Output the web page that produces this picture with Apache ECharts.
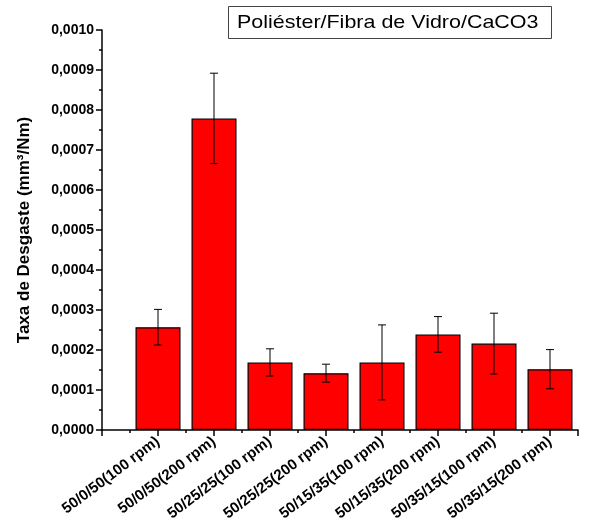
<!DOCTYPE html>
<html>
<head>
<meta charset="utf-8">
<script src="https://cdn.jsdelivr.net/npm/echarts@6/dist/echarts.min.js"></script>
<style>
  html, body { margin: 0; padding: 0; background: #fff; }
  #container { width: 597px; height: 526px; }
</style>
</head>
<body>
<div id="container"></div>
<script>
var categories = ['50/0/50(100 rpm)', '50/0/50(200 rpm)', '50/25/25(100 rpm)', '50/25/25(200 rpm)',
  '50/15/35(100 rpm)', '50/15/35(200 rpm)', '50/35/15(100 rpm)', '50/35/15(200 rpm)'];
var rates = [0.000257, 0.000779, 0.000169, 0.000142, 0.000169, 0.000239, 0.000216, 0.000152];
var errors = [0.0000445, 0.000113, 0.000034, 0.0000225, 0.0000937, 0.0000445, 0.000076, 0.000049];

var myChart = echarts.init(document.getElementById('container'));
var font = 'Liberation Sans, Arial, sans-serif';

var option = {
  animation: false,
  graphic: [{
    type: 'rect',
    shape: { x: 228.5, y: 6.5, width: 323, height: 32 },
    style: { fill: '#fff', stroke: '#444', lineWidth: 1 }
  }, {
    type: 'text',
    x: 237,
    y: 23,
    scaleX: 1.13,
    style: {
      text: 'Poliéster/Fibra de Vidro/CaCO3',
      font: 'normal 19px ' + font,
      fill: '#000',
      verticalAlign: 'middle'
    }
  }],
  grid: { left: 102, right: 19, top: 30, bottom: 96 },
  xAxis: {
    type: 'value',
    min: 0,
    max: 8.5,
    interval: 1,
    splitLine: { show: false },
    axisLine: { onZero: false, lineStyle: { color: '#000', width: 1.5 } },
    axisTick: { length: 6, lineStyle: { color: '#000', width: 1.5 } },
    minorTick: { show: true, splitNumber: 2, length: 3, lineStyle: { color: '#000', width: 1.5 } },
    axisLabel: {
      rotate: 37,
      margin: 10,
      color: '#000',
      fontFamily: font,
      fontWeight: 'bold',
      fontSize: 15,
      showMaxLabel: false,
      formatter: function (v) {
        return (v >= 1 && v % 1 === 0) ? categories[v - 1] : '';
      }
    }
  },
  yAxis: {
    type: 'value',
    min: 0,
    max: 0.001,
    interval: 0.0001,
    name: 'Taxa de Desgaste (mm³/Nm)',
    nameLocation: 'middle',
    nameGap: 69,
    nameTextStyle: { fontFamily: font, fontWeight: 'bold', fontSize: 17, color: '#000' },
    splitLine: { show: false },
    axisLine: { show: true, lineStyle: { color: '#000', width: 1.5 } },
    axisTick: { show: true, length: 6, lineStyle: { color: '#000', width: 1.5 } },
    minorTick: { show: true, splitNumber: 2, length: 3, lineStyle: { color: '#000', width: 1.5 } },
    axisLabel: {
      margin: 8,
      color: '#000',
      fontFamily: font,
      fontWeight: 'bold',
      fontSize: 14,
      formatter: function (v) { return v.toFixed(4).replace('.', ','); }
    }
  },
  series: [{
    type: 'bar',
    barWidth: 45,
    data: rates.map(function (v, i) { return [i + 1, v]; }),
    itemStyle: { color: '#ff0000', borderColor: '#000', borderWidth: 1.2 }
  }, {
    type: 'custom',
    data: rates.map(function (v, i) { return [i + 1, v - errors[i], v + errors[i]]; }),
    renderItem: function (params, api) {
      var lo = api.coord([api.value(0), api.value(1)]);
      var hi = api.coord([api.value(0), api.value(2)]);
      var w = 4;
      var st = { stroke: '#000', lineWidth: 1 };
      return {
        type: 'group',
        children: [
          { type: 'line', shape: { x1: lo[0], y1: lo[1], x2: hi[0], y2: hi[1] }, style: st },
          { type: 'line', shape: { x1: lo[0] - w, y1: lo[1], x2: lo[0] + w, y2: lo[1] }, style: st },
          { type: 'line', shape: { x1: hi[0] - w, y1: hi[1], x2: hi[0] + w, y2: hi[1] }, style: st }
        ]
      };
    },
    z: 5
  }]
};

myChart.setOption(option);
</script>
</body>
</html>
